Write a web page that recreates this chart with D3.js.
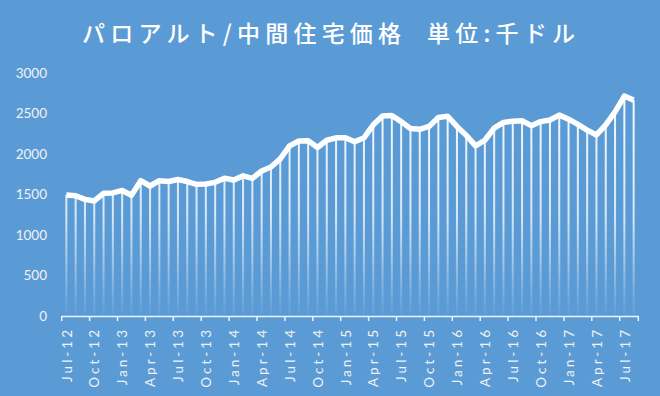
<!DOCTYPE html>
<html>
<head>
<meta charset="utf-8">
<script src="https://cdn.jsdelivr.net/npm/d3@7"></script>
<style>
  html, body { margin: 0; padding: 0; background: #5b9bd5; }
  svg { display: block; }
</style>
</head>
<body>
<div id="chart"></div>
<script>
// monthly categories, Jul-12 .. Aug-17
const months = [
  "Jul-12","Aug-12","Sep-12","Oct-12","Nov-12","Dec-12",
  "Jan-13","Feb-13","Mar-13","Apr-13","May-13","Jun-13","Jul-13","Aug-13","Sep-13","Oct-13","Nov-13","Dec-13",
  "Jan-14","Feb-14","Mar-14","Apr-14","May-14","Jun-14","Jul-14","Aug-14","Sep-14","Oct-14","Nov-14","Dec-14",
  "Jan-15","Feb-15","Mar-15","Apr-15","May-15","Jun-15","Jul-15","Aug-15","Sep-15","Oct-15","Nov-15","Dec-15",
  "Jan-16","Feb-16","Mar-16","Apr-16","May-16","Jun-16","Jul-16","Aug-16","Sep-16","Oct-16","Nov-16","Dec-16",
  "Jan-17","Feb-17","Mar-17","Apr-17","May-17","Jun-17","Jul-17","Aug-17"
];

// median price, thousand dollars
const prices = [
  1495, 1485, 1440, 1420, 1515, 1520,
  1550, 1490, 1670, 1605, 1670, 1660, 1685, 1660, 1625, 1630, 1650, 1700,
  1680, 1730, 1700, 1790, 1840, 1940, 2100, 2160, 2165, 2080, 2170, 2200,
  2200, 2150, 2200, 2360, 2470, 2475, 2400, 2315, 2305, 2340, 2450, 2465,
  2340, 2230, 2100, 2170, 2320, 2390, 2405, 2410, 2350, 2400, 2420, 2480,
  2430, 2365, 2295, 2235, 2360, 2520, 2715, 2665
];

const tickLabels = ["Jul-12","Oct-12","Jan-13","Apr-13","Jul-13","Oct-13","Jan-14","Apr-14",
  "Jul-14","Oct-14","Jan-15","Apr-15","Jul-15","Oct-15","Jan-16","Apr-16","Jul-16","Oct-16",
  "Jan-17","Apr-17","Jul-17"];
const yTicks = [0, 500, 1000, 1500, 2000, 2500, 3000];

const title = "パロアルト/中間住宅価格\u00a0\u00a0単位:千ドル";

const width = 660, height = 396;

const svg = d3.select("#chart").append("svg")
  .attr("width", width)
  .attr("height", height);

svg.append("rect")
  .attr("width", width)
  .attr("height", height)
  .attr("fill", "#5b9bd5");

const x = d3.scaleBand().domain(months).range([61.7, 638.3]).padding(0);
const y = d3.scaleLinear().domain([0, 3000]).range([316, 73]);
const cx = d => x(d) + x.bandwidth() / 2;

// fade for the drop lines
const grad = svg.append("defs").append("linearGradient")
  .attr("id", "fade")
  .attr("gradientUnits", "userSpaceOnUse")
  .attr("x1", 0).attr("x2", 0)
  .attr("y1", y(2700)).attr("y2", y(0));
grad.append("stop").attr("offset", "0%").attr("stop-color", "#fff").attr("stop-opacity", 0.95);
grad.append("stop").attr("offset", "55%").attr("stop-color", "#fff").attr("stop-opacity", 0.75);
grad.append("stop").attr("offset", "100%").attr("stop-color", "#fff").attr("stop-opacity", 0.02);

svg.append("text")
  .attr("x", 82)
  .attr("y", 42)
  .attr("textLength", 493)
  .attr("lengthAdjust", "spacing")
  .attr("fill", "#fff")
  .attr("font-family", "'Noto Sans CJK JP', sans-serif")
  .attr("font-weight", 500)
  .attr("font-size", 23)
  .text(title);

// y labels (no gridlines)
svg.append("g").selectAll("text")
  .data(yTicks)
  .enter().append("text")
  .attr("x", 47)
  .attr("y", d => y(d))
  .attr("dy", "0.35em")
  .attr("text-anchor", "end")
  .attr("fill", "#f2f2f2")
  .attr("font-family", "Lato, sans-serif")
  .attr("font-size", 13.5)
  .text(d => d);

// drop lines
svg.append("g").selectAll("line")
  .data(months)
  .enter().append("line")
  .attr("x1", d => cx(d))
  .attr("x2", d => cx(d))
  .attr("y1", (d, i) => y(prices[i]))
  .attr("y2", y(0))
  .attr("stroke", "url(#fade)")
  .attr("stroke-width", 2);

// x axis
const xAxis = svg.append("g");
xAxis.append("line")
  .attr("x1", x.range()[0]).attr("x2", x.range()[1])
  .attr("y1", 316.5).attr("y2", 316.5)
  .attr("stroke", "#eef4fb")
  .attr("stroke-width", 1.5);

xAxis.selectAll(".tick")
  .data(months.filter((d, i) => i % 3 === 0).concat(["end"]))
  .enter().append("line")
  .attr("class", "tick")
  .attr("x1", d => d === "end" ? x.range()[1] : x(d))
  .attr("x2", d => d === "end" ? x.range()[1] : x(d))
  .attr("y1", 316).attr("y2", 321)
  .attr("stroke", "#eef4fb")
  .attr("stroke-width", 1.5);

xAxis.selectAll(".lbl")
  .data(tickLabels)
  .enter().append("text")
  .attr("class", "lbl")
  .attr("transform", d => `translate(${cx(d) + 0.5},327) rotate(-90)`)
  .attr("dy", "0.35em")
  .attr("text-anchor", "end")
  .attr("fill", "#f2f2f2")
  .attr("font-family", "Lato, sans-serif")
  .attr("font-size", 13.5)
  .attr("letter-spacing", 3)
  .text(d => d);

// price line
svg.append("path")
  .datum(prices)
  .attr("fill", "none")
  .attr("stroke", "#fff")
  .attr("stroke-width", 5.5)
  .attr("stroke-linejoin", "round")
  .attr("d", d3.line()
    .x((d, i) => cx(months[i]))
    .y(d => y(d)));
</script>
</body>
</html>
